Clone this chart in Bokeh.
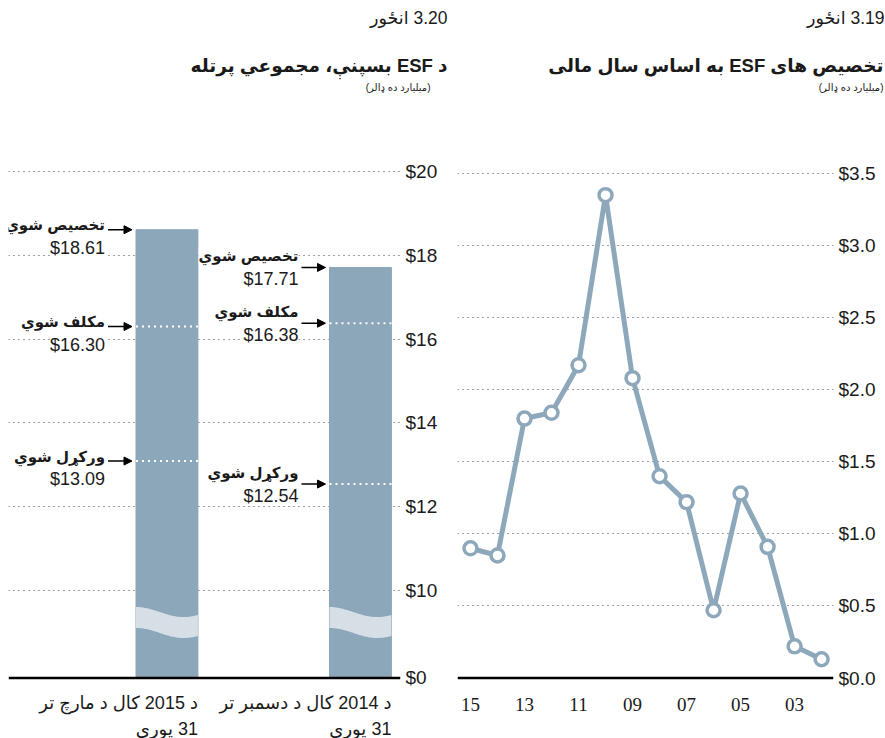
import numpy as np
from bokeh.plotting import figure
from bokeh.layouts import row, column
from bokeh.models import (Range1d, FixedTicker, Label, LabelSet, Arrow, NormalHead, Span,
                          NumeralTickFormatter, ColumnDataSource)
from bokeh.embed import file_html
from bokeh.resources import INLINE

# ---------------- data: figure 3.20 (cumulative ESF funding) ----------------
bar_dates = ["د 2015 کال د مارچ تر\n31 پورې", "د 2014 کال د دسمبر تر\n31 پورې"]
allocated = [18.61, 17.71]
obligated = [16.30, 16.38]
disbursed = [13.09, 12.54]
status_names = ["تخصیص شوي", "مکلف شوي", "ورکړل شوي"]
bar_ticks = [10, 12, 14, 16, 18, 20]
bar_tick_labels = ["$10", "$12", "$14", "$16", "$18", "$20"]
zero_label = "$0"

# ---------------- data: figure 3.19 (ESF allocations by fiscal year) --------
fiscal_years = [15, 14, 13, 12, 11, 10, 9, 8, 7, 6, 5, 4, 3, 2]
allocations = [0.90, 0.85, 1.80, 1.84, 2.17, 3.35, 2.08, 1.40, 1.22, 0.47,
               1.28, 0.91, 0.22, 0.13]
year_ticks = [15, 13, 11, 9, 7, 5, 3]
year_labels = ["15", "13", "11", "09", "07", "05", "03"]
dollar_ticks = [0, 0.5, 1.0, 1.5, 2.0, 2.5, 3.0, 3.5]

# ---------------- texts ----------------
fig_no_left = "3.20 انځور"
title_left = "د ESF بسپنې، مجموعي پرتله"
fig_no_right = "3.19 انځور"
title_right = "تخصیص های ESF به اساس سال مالی"
unit_text = "(میلیارد ده ډالر)"

# ---------------- style ----------------
FONT = "Liberation Sans, DejaVu Sans, sans-serif"
BAR_COLOR = "#8ca6ba"
WAVE_COLOR = "#d6dee6"
LINE_COLOR = "#8ea8bb"
TEXT = "#1a1a1a"
GRID = "#444444"
RLE, PDF = "\u202b", "\u202c"


def rtl(s):
    """Lay each line out as right-to-left text."""
    return "\n".join(RLE + line + PDF for line in s.split("\n"))


def style_axis(ax, size="19px"):
    ax.axis_line_color = None
    ax.major_tick_line_color = None
    ax.minor_tick_line_color = None
    ax.major_tick_out = 0
    ax.major_tick_in = 0
    ax.major_label_text_font = FONT
    ax.major_label_text_font_size = size
    ax.major_label_text_color = TEXT


W1, W2 = 457, 428
HEAD_H = 150
H = 738 - HEAD_H

# ================= heading strip (page-pixel coordinates) =================
head = figure(width=W1 + W2, height=HEAD_H, output_backend="svg", toolbar_location=None,
              x_range=Range1d(0, W1 + W2), y_range=Range1d(HEAD_H, 0),
              x_axis_location=None, y_axis_location=None,
              min_border_left=0, min_border_right=0, min_border_top=0, min_border_bottom=0)
head.outline_line_color = None
head.grid.visible = False


def head_label(x, y, text, size, bold=False):
    head.add_layout(Label(x=x, y=y, text=rtl(text), text_align="right", text_baseline="middle",
                          text_font=FONT, text_font_size=size,
                          text_font_style="bold" if bold else "normal", text_color=TEXT))


head_label(447, 17, fig_no_left, "17.5px")
head_label(447, 65, title_left, "18.5px", True)
head_label(430, 87, unit_text, "10px")
head_label(884, 17, fig_no_right, "17.5px")
head_label(883, 65, title_right, "18.5px", True)
head_label(883, 87, unit_text, "10px")

# ================= left figure: 3.20 =================
BASE = 7.912          # display level of the broken-axis $0 baseline
BAR_W = 0.32
XR1 = (0.181, 2.207)
PX1 = (XR1[1] - XR1[0]) / 392.0   # data units per pixel (x)
bar_pos = list(range(1, len(allocated) + 1))

p1 = figure(width=W1, height=H, output_backend="svg", toolbar_location=None,
            x_range=Range1d(*XR1), y_range=Range1d(6.468, 20.31),
            x_axis_location=None, y_axis_location="right",
            min_border_left=8, min_border_right=57, min_border_top=8, min_border_bottom=0)
p1.outline_line_color = None
p1.xgrid.visible = False
p1.ygrid.ticker = FixedTicker(ticks=bar_ticks)
p1.ygrid.grid_line_color = GRID
p1.ygrid.grid_line_dash = "1 4"
p1.ygrid.grid_line_width = 1.2

ya = p1.yaxis[0]
ya.ticker = FixedTicker(ticks=[BASE] + bar_ticks)
ov = {BASE: zero_label}
ov.update({t: l for t, l in zip(bar_ticks, bar_tick_labels)})
ya.major_label_overrides = ov
ya.major_label_standoff = 5
style_axis(ya)

p1.vbar(x=bar_pos, width=BAR_W, bottom=BASE, top=allocated, color=BAR_COLOR)

# axis-break wave across each bar
t = np.linspace(0, 1, 61)
BRK_TOP, BRK_SWING, BRK_HALF = 9.356, 0.12, 0.25
for xc in bar_pos:
    xs = xc - BAR_W / 2 + BAR_W * t
    center = BRK_TOP - BRK_SWING * (1 - np.cos(1.3 * np.pi * t))
    p1.patch(np.concatenate([xs, xs[::-1]]),
             np.concatenate([center + BRK_HALF, (center - BRK_HALF)[::-1]]),
             color=WAVE_COLOR, line_width=0)

# white dotted levels inside bars
for vals in (obligated, disbursed):
    p1.segment(x0=[x - BAR_W / 2 for x in bar_pos], x1=[x + BAR_W / 2 for x in bar_pos],
               y0=vals, y1=vals, line_color="white", line_width=2, line_dash="2 4")

p1.add_layout(Span(location=BASE, dimension="width", line_color="black", line_width=2.5))

# annotations: name + value + arrow
name_off = [5, 12]
val_off = [-18, -12]
for i, xc in enumerate(bar_pos):
    left = xc - BAR_W / 2
    for name, series in zip(status_names, (allocated, obligated, disbursed)):
        v = series[i]
        p1.add_layout(Arrow(end=NormalHead(size=8, fill_color="black", line_color="black"),
                            x_start=left - 28 * PX1, x_end=left - 4 * PX1,
                            y_start=v, y_end=v, line_color="black", line_width=1.5))
        p1.add_layout(Label(x=left, y=v, x_offset=-31, y_offset=name_off[i], text=rtl(name),
                            text_align="right", text_baseline="middle", text_font=FONT,
                            text_font_size="15px", text_font_style="bold", text_color=TEXT,
                            background_fill_color="white"))
        p1.add_layout(Label(x=left, y=v, x_offset=-31, y_offset=val_off[i], text=f"${v:.2f}",
                            text_align="right", text_baseline="middle", text_font=FONT,
                            text_font_size="18px", text_color=TEXT,
                            background_fill_color="white"))
    # category (date) label under each bar, right-aligned to the bar edge
    p1.add_layout(Label(x=xc + BAR_W / 2, y=BASE, y_offset=-15, text=rtl(bar_dates[i]),
                        text_align="right", text_baseline="top", text_font=FONT,
                        text_font_size="18px", text_color=TEXT, text_line_height=1.3))

# ================= right figure: 3.19 =================
p2 = figure(width=W2, height=H, output_backend="svg", toolbar_location=None,
            x_range=Range1d(15.48, 1.56), y_range=Range1d(-0.4197, 3.6041),
            x_axis_location=None, y_axis_location="right",
            min_border_left=0, min_border_right=52, min_border_top=8, min_border_bottom=0)
p2.outline_line_color = None
p2.xgrid.visible = False
p2.ygrid.ticker = FixedTicker(ticks=dollar_ticks[1:])
p2.ygrid.grid_line_color = GRID
p2.ygrid.grid_line_dash = "1 4"
p2.ygrid.grid_line_width = 1.2

ya2 = p2.yaxis[0]
ya2.ticker = FixedTicker(ticks=dollar_ticks)
ya2.formatter = NumeralTickFormatter(format="$0.0")
ya2.major_label_standoff = 5
style_axis(ya2)

p2.add_layout(Span(location=0, dimension="width", line_color="black", line_width=2.5))
p2.line(fiscal_years, allocations, line_color=LINE_COLOR, line_width=5)
p2.scatter(fiscal_years, allocations, size=13, fill_color="white",
           line_color=LINE_COLOR, line_width=3.5)

# fiscal-year tick labels under the baseline
year_src = ColumnDataSource(dict(x=year_ticks, y=[0] * len(year_ticks), text=year_labels))
p2.add_layout(LabelSet(x="x", y="y", text="text", source=year_src, y_offset=-26,
                       text_align="center", text_baseline="middle", text_font=FONT,
                       text_font_size="19px", text_color=TEXT))

layout = column(head, row(p1, p2))
open("out.html", "w").write(file_html(layout, INLINE))
